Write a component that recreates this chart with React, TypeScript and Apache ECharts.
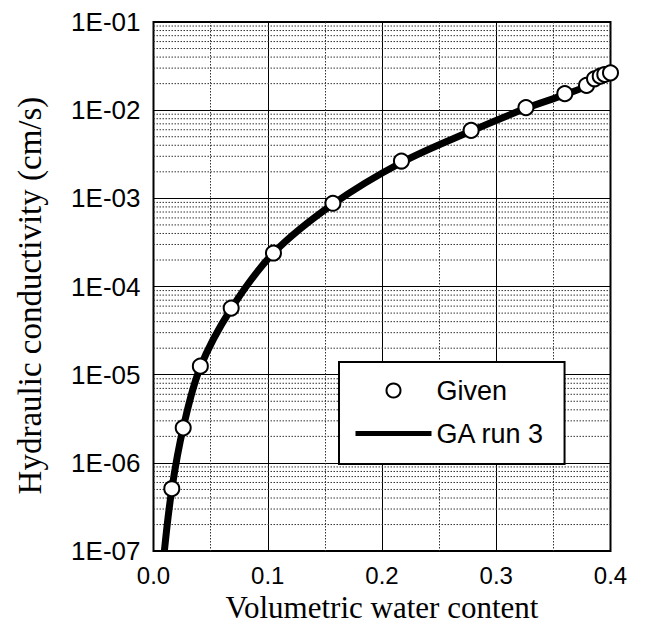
import React, { useEffect, useRef } from "react";
import * as echarts from "echarts";

// Measured ("Given") points: volumetric water content vs hydraulic conductivity (cm/s)
const givenTheta = [0.016, 0.026, 0.041, 0.068, 0.105, 0.157, 0.217, 0.278, 0.326, 0.36, 0.379, 0.386, 0.391, 0.395, 0.4];
const givenK = [5.1e-7, 2.5e-6, 1.25e-5, 5.7e-5, 2.4e-4, 8.8e-4, 2.65e-3, 5.9e-3, 1.07e-2, 1.54e-2, 1.91e-2, 2.27e-2, 2.43e-2, 2.54e-2, 2.65e-2];

// Fitted curve ("GA run 3")
const fitTheta = [0.0095, 0.016, 0.026, 0.041, 0.068, 0.105, 0.157, 0.217, 0.278, 0.326, 0.36, 0.38, 0.4];
const fitK = [1e-7, 5.0e-7, 2.5e-6, 1.22e-5, 5.6e-5, 2.4e-4, 8.6e-4, 2.55e-3, 5.8e-3, 1.05e-2, 1.5e-2, 1.9e-2, 2.6e-2];

const yTickLabels = ["1E-07", "1E-06", "1E-05", "1E-04", "1E-03", "1E-02", "1E-01"];
const xTickLabels = ["0.0", "0.1", "0.2", "0.3", "0.4"];
const decades = [-7, -6, -5, -4, -3, -2];
const minorMultipliers = [2, 3, 4, 5, 6, 7, 8, 9];

const SANS = "Liberation Sans, Arial, Helvetica, sans-serif";
const SERIF = "Liberation Serif, Times New Roman, serif";

export default function App() {
  const ref = useRef<HTMLDivElement>(null);
  useEffect(() => {
    if (!ref.current) return;
    const chart = echarts.init(ref.current, null, { renderer: "svg" });
    const minorValues: number[][] = [];
    decades.forEach((d) => {
      minorMultipliers.forEach((m) => {
        minorValues.push([0, m * Math.pow(10, d)]);
      });
    });
    chart.setOption({
      animation: false,
      backgroundColor: "#fff",
      grid: {
        left: 153.5,
        right: 34.5,
        top: 22,
        bottom: 72,
        show: true,
        borderColor: "#000",
        borderWidth: 2,
        backgroundColor: "transparent",
      },
      legend: {
        orient: "vertical",
        left: 339,
        top: 362,
        padding: [15, 20, 17, 14],
        itemGap: 16,
        itemWidth: 76,
        itemHeight: 14,
        borderColor: "#000",
        borderWidth: 2,
        backgroundColor: "#fff",
        textStyle: { fontFamily: SANS, fontSize: 27, color: "#000" },
        data: [
          { name: "Given", icon: "circle", itemStyle: { color: "#fff", borderColor: "#000", borderWidth: 2 } },
          { name: "GA run 3", lineStyle: { width: 5, color: "#000" }, itemStyle: { opacity: 0 } },
        ],
      },
      xAxis: {
        type: "value",
        min: 0,
        max: 0.4,
        interval: 0.1,
        name: "Volumetric water content",
        nameLocation: "middle",
        nameGap: 37,
        nameTextStyle: { fontFamily: SERIF, fontSize: 31, color: "#000" },
        axisLine: { show: false },
        axisTick: { show: false },
        axisLabel: {
          fontFamily: SANS,
          fontSize: 24,
          color: "#000",
          margin: 12,
          formatter: (v: number) => xTickLabels[Math.round(v * 10)] ?? "",
        },
        splitLine: { show: true, lineStyle: { color: "#000", width: 1 } },
        minorTick: { show: false, splitNumber: 2 },
        minorSplitLine: { show: true, lineStyle: { color: "#333", width: 1, type: [1.5, 1.5] } },
      },
      yAxis: {
        type: "log",
        logBase: 10,
        min: 1e-7,
        max: 1e-1,
        name: "Hydraulic conductivity (cm/s)",
        nameLocation: "middle",
        nameGap: 107,
        nameTextStyle: { fontFamily: SERIF, fontSize: 33, color: "#000", padding: [0, 18, 0, 0] },
        axisLine: { show: false },
        axisTick: { show: false },
        axisLabel: {
          fontFamily: SANS,
          fontSize: 26,
          color: "#000",
          margin: 13,
          formatter: (v: number) => yTickLabels[Math.round(Math.log10(v)) + 7] ?? "",
        },
        splitLine: { show: true, lineStyle: { color: "#000", width: 1 } },
      },
      series: [
        {
          name: "minorGrid",
          type: "custom",
          silent: true,
          data: minorValues,
          z: 1,
          renderItem: (params: any, api: any) => {
            const cs = params.coordSys;
            const y = api.coord([0, api.value(1)])[1];
            return {
              type: "line",
              shape: { x1: cs.x, y1: y, x2: cs.x + cs.width, y2: y },
              style: { stroke: "#333", lineWidth: 1, lineDash: [1.5, 1.5] },
            };
          },
        },
        {
          name: "GA run 3",
          type: "line",
          data: fitTheta.map((t, i) => [t, fitK[i]]),
          smooth: 0.35,
          showSymbol: false,
          symbol: "none",
          lineStyle: { color: "#000", width: 7 },
          itemStyle: { color: "#000" },
          z: 3,
        },
        {
          name: "Given",
          type: "scatter",
          data: givenTheta.map((t, i) => [t, givenK[i]]),
          symbol: "circle",
          symbolSize: 15,
          itemStyle: { color: "#fff", borderColor: "#000", borderWidth: 2, opacity: 1 },
          clip: false,
          z: 4,
        },
      ],
    });
    return () => chart.dispose();
  }, []);
  return (
    <div
      ref={ref}
      style={{ position: "absolute", left: 0, top: 0, width: 645, height: 628 }}
    />
  );
}
